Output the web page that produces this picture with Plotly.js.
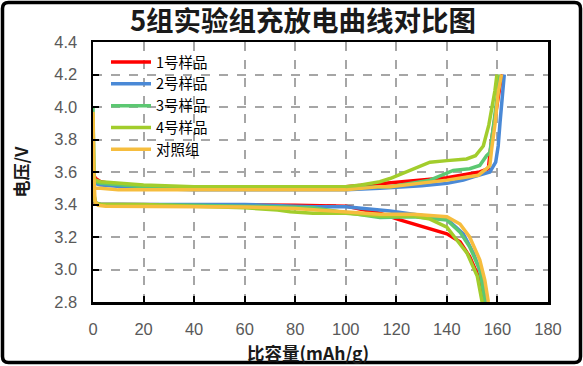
<!DOCTYPE html>
<html>
<head>
<meta charset="utf-8">
<script src="https://cdn.plot.ly/plotly-3.0.1.min.js"></script>
<style>html,body{margin:0;padding:0;background:#fff;}#plot{width:583px;height:366px;}</style>
</head>
<body>
<div id="plot"></div>
<script>
// ---- data ----
const seriesNames = ['1号样品', '2号样品', '3号样品', '4号样品', '对照组'];
const seriesColors = ['#ff0000', '#4a89d6', '#5cc872', '#a2cd2c', '#f6bd3e'];

// 1号样品
const s1ChargeX = [0, 1, 3, 6, 10, 20, 40, 60, 80, 100, 113.5, 130, 140, 149, 153, 156.4, 157.7, 159, 160.3, 161.3, 162];
const s1ChargeY = [3.59, 3.56, 3.54, 3.53, 3.52, 3.51, 3.50, 3.50, 3.50, 3.51, 3.53, 3.55, 3.565, 3.59, 3.60, 3.62, 3.80, 3.93, 4.08, 4.16, 4.20];
const s1DischX = [0, 0.3, 0.8, 2, 10, 20, 40, 60, 80, 100, 107, 113.5, 121.4, 126.7, 133.3, 140, 145.2, 149, 152.4, 154.4, 155, 155.4];
const s1DischY = [3.62, 3.45, 3.41, 3.40, 3.40, 3.40, 3.40, 3.40, 3.395, 3.39, 3.37, 3.346, 3.305, 3.28, 3.25, 3.22, 3.17, 3.08, 2.96, 2.85, 2.80, 2.77];

// 2号样品
const s2ChargeX = [0, 1, 3, 10, 20, 40, 60, 80, 100, 113.5, 130, 140, 146.5, 150.5, 157, 159.3, 160.3, 161, 161.8, 162.7];
const s2ChargeY = [3.55, 3.53, 3.52, 3.51, 3.50, 3.49, 3.49, 3.49, 3.49, 3.50, 3.515, 3.53, 3.55, 3.57, 3.60, 3.66, 3.76, 3.90, 4.05, 4.20];
const s2DischX = [0, 0.3, 1, 3, 10, 20, 40, 60, 80, 87, 100, 113.5, 117.5, 126.7, 140, 146.5, 150.5, 153.9, 155.4, 155.8];
const s2DischY = [3.55, 3.44, 3.41, 3.40, 3.40, 3.40, 3.40, 3.40, 3.39, 3.386, 3.386, 3.366, 3.36, 3.34, 3.31, 3.22, 3.10, 2.96, 2.80, 2.77];

// 3号样品
const s3ChargeX = [0, 1, 3, 10, 20, 40, 60, 80, 100, 113.5, 117.5, 133.3, 142.5, 149, 153, 155.7, 157, 158.4, 160.3, 161];
const s3ChargeY = [3.56, 3.54, 3.53, 3.52, 3.51, 3.50, 3.50, 3.50, 3.50, 3.51, 3.51, 3.55, 3.61, 3.62, 3.64, 3.70, 3.72, 3.88, 4.11, 4.20];
const s3DischX = [0, 0.2, 0.5, 1, 3, 10, 20, 40, 60, 80, 87, 100, 113.5, 126.7, 140, 145.2, 149, 153, 155, 155.4];
const s3DischY = [4.00, 3.70, 3.45, 3.41, 3.40, 3.40, 3.40, 3.395, 3.39, 3.385, 3.38, 3.35, 3.32, 3.325, 3.305, 3.23, 3.14, 3.00, 2.80, 2.77];

// 4号样品
const s4ChargeX = [0, 1, 3, 10, 20, 40, 60, 80, 100, 106, 113.5, 117.5, 126.7, 133.3, 140, 147.8, 151.3, 154.4, 156.6, 158.4, 159, 159.8];
const s4ChargeY = [3.57, 3.55, 3.54, 3.53, 3.52, 3.51, 3.51, 3.51, 3.51, 3.52, 3.54, 3.56, 3.62, 3.66, 3.67, 3.68, 3.70, 3.76, 3.89, 4.04, 4.10, 4.20];
const s4DischX = [0, 0.2, 0.5, 1, 3, 10, 20, 40, 60, 73, 78, 87, 100, 113.5, 126.7, 133.3, 140, 144, 148, 152, 153.9, 154.3];
const s4DischY = [3.95, 3.70, 3.45, 3.41, 3.40, 3.40, 3.40, 3.39, 3.38, 3.366, 3.356, 3.346, 3.346, 3.33, 3.33, 3.31, 3.26, 3.18, 3.10, 2.96, 2.80, 2.77];

// 对照组
const s5ChargeX = [0.3, 1, 3, 10, 20, 40, 60, 80, 100, 113.5, 117.5, 140, 152.4, 155.7, 157, 157.7, 159, 160.3, 161.6];
const s5ChargeY = [3.50, 3.50, 3.50, 3.49, 3.49, 3.49, 3.49, 3.49, 3.49, 3.51, 3.51, 3.55, 3.58, 3.62, 3.64, 3.74, 3.89, 4.09, 4.20];
const s5DischX = [0, 0.3, 0.8, 2, 5, 10, 20, 40, 60, 80, 100, 113.5, 126.7, 140, 145.2, 149, 153, 155, 156.4, 156.8];
const s5DischY = [3.97, 3.60, 3.42, 3.395, 3.39, 3.39, 3.39, 3.39, 3.385, 3.375, 3.355, 3.34, 3.34, 3.325, 3.28, 3.20, 3.06, 2.935, 2.80, 2.77];

const xTickVals = [0, 20, 40, 60, 80, 100, 120, 140, 160, 180];
const yTickVals = [2.8, 3.0, 3.2, 3.4, 3.6, 3.8, 4.0, 4.2, 4.4];

const chargeX = [s1ChargeX, s2ChargeX, s3ChargeX, s4ChargeX, s5ChargeX];
const chargeY = [s1ChargeY, s2ChargeY, s3ChargeY, s4ChargeY, s5ChargeY];
const dischX = [s1DischX, s2DischX, s3DischX, s4DischX, s5DischX];
const dischY = [s1DischY, s2DischY, s3DischY, s4DischY, s5DischY];

// ---- traces ----
const traces = [];
for (let i = 0; i < seriesNames.length; i++) {
  traces.push({
    x: chargeX[i], y: chargeY[i], type: 'scatter', mode: 'lines',
    name: seriesNames[i], legendgroup: 'g' + i, showlegend: true,
    line: {color: seriesColors[i], width: 3.5}
  });
  traces.push({
    x: dischX[i], y: dischY[i], type: 'scatter', mode: 'lines',
    name: seriesNames[i], legendgroup: 'g' + i, showlegend: false,
    line: {color: seriesColors[i], width: 3.5}
  });
}

const L = 93, R = 548, T = 42, B = 302, W = 583, H = 366;
const pw = R - L, ph = B - T;
function px(x) { return (x - L) / pw; }
function py(y) { return (B - y) / ph; }
const bx0 = px(2.5), bx1 = px(580.5), by0 = py(362.5), by1 = py(2.5);
const rx = 6 / pw, ry = 6 / ph;
const borderPath = `M ${bx0 + rx},${by1} L ${bx1 - rx},${by1} Q ${bx1},${by1} ${bx1},${by1 - ry} ` +
  `L ${bx1},${by0 + ry} Q ${bx1},${by0} ${bx1 - rx},${by0} L ${bx0 + rx},${by0} Q ${bx0},${by0} ${bx0},${by0 + ry} ` +
  `L ${bx0},${by1 - ry} Q ${bx0},${by1} ${bx0 + rx},${by1} Z`;

const tickFont = {family: 'Liberation Sans, Arial, sans-serif', size: 16.5, color: '#595959'};
const cjk = 'Noto Sans CJK SC, Liberation Sans, sans-serif';

const layout = {
  width: W, height: H,
  margin: {l: L, r: W - R, t: T, b: H - B},
  paper_bgcolor: '#ffffff', plot_bgcolor: '#ffffff',
  title: {
    text: '<b>5组实验组充放电曲线对比图</b>',
    font: {family: cjk, size: 27.5, color: '#1a1a1a'},
    x: 303 / W, xref: 'container', xanchor: 'center',
    y: 1 - 21 / H, yref: 'container', yanchor: 'middle'
  },
  xaxis: {
    range: [0, 180], tickvals: xTickVals, ticktext: xTickVals.map(String),
    showgrid: true, gridcolor: '#a6a6a6', gridwidth: 2, griddash: 'dash',
    zeroline: false, showline: true, linecolor: '#000000', linewidth: 2.5, mirror: true,
    ticks: 'inside', ticklen: 6, tickwidth: 2, tickcolor: '#000000',
    tickfont: tickFont, ticklabelstandoff: 11,
    automargin: false, fixedrange: true
  },
  yaxis: {
    range: [2.8, 4.4], tickvals: yTickVals, ticktext: yTickVals.map(v => v.toFixed(1)),
    showgrid: true, gridcolor: '#a6a6a6', gridwidth: 2, griddash: 'dash',
    zeroline: false, showline: true, linecolor: '#000000', linewidth: 2.5, mirror: true,
    ticks: 'inside', ticklen: 6, tickwidth: 2, tickcolor: '#000000',
    tickfont: tickFont, ticklabelstandoff: 10,
    title: {text: '<b>电压/V</b>', font: {family: cjk, size: 17, color: '#1a1a1a'}, standoff: 22},
    automargin: false, fixedrange: true
  },
  annotations: [{
    text: '<b>比容量(mAh/g)</b>', xref: 'paper', yref: 'paper',
    x: px(308), y: py(352), xanchor: 'center', yanchor: 'middle', showarrow: false,
    font: {family: cjk, size: 17.5, color: '#1a1a1a'}, borderpad: 0
  }],
  legend: {
    x: px(106), y: py(46), xanchor: 'left', yanchor: 'top',
    bgcolor: 'rgba(0,0,0,0)', borderwidth: 0,
    font: {family: cjk, size: 14.5, color: '#000000'},
    tracegroupgap: 0, itemwidth: 40
  },
  shapes: [{
    type: 'path', xref: 'paper', yref: 'paper', path: borderPath,
    line: {color: '#000000', width: 3.5}, fillcolor: 'rgba(0,0,0,0)', layer: 'above'
  }],
  showlegend: true
};

Plotly.newPlot('plot', traces, layout, {displayModeBar: false, staticPlot: true});
</script>
</body>
</html>
